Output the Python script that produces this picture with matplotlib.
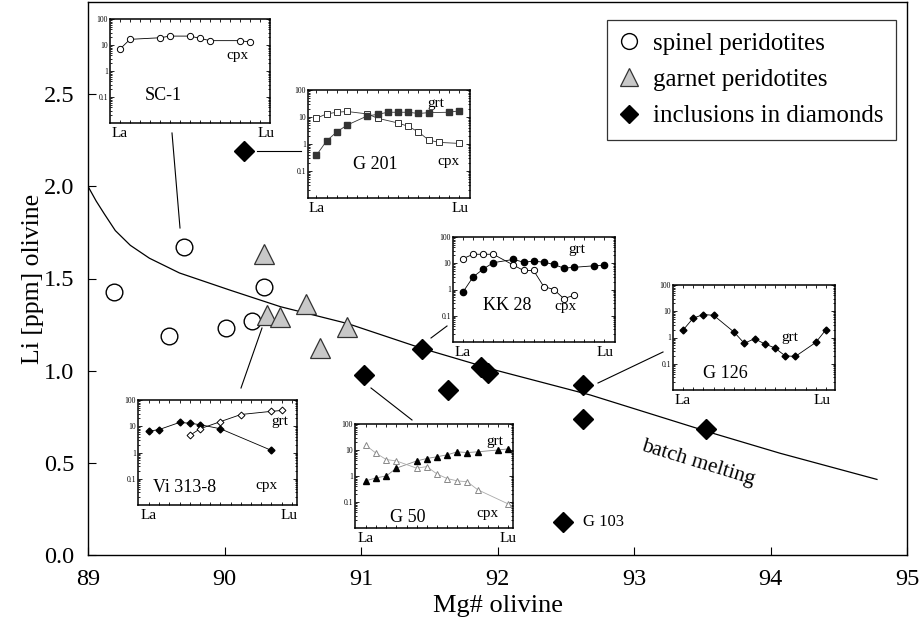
import matplotlib
matplotlib.use('Agg')
import matplotlib.pyplot as plt
from matplotlib.lines import Line2D
from matplotlib.ticker import LogLocator, NullFormatter

plt.rcParams['font.family'] = ['Liberation Serif', 'DejaVu Serif']

# main diagram: Li in olivine vs Mg#
spinel_mg = [89.19, 89.70, 89.59, 90.01, 90.20, 90.29]
spinel_li = [1.425, 1.672, 1.19, 1.231, 1.271, 1.452]
garnet_mg = [90.29, 90.31, 90.41, 90.60, 90.90, 90.70]
garnet_li = [1.634, 1.30, 1.289, 1.361, 1.238, 1.121]
diam_mg = [90.14, 91.45, 91.02, 91.64, 91.88, 91.93, 92.63, 92.63, 93.53, 92.48]
diam_li = [2.19, 1.117, 0.976, 0.895, 1.02, 0.99, 0.922, 0.738, 0.683, 0.179]

melt_mg = [89.0, 89.06, 89.12, 89.2, 89.31, 89.45, 89.67, 90.04, 90.41, 90.9, 91.45,
           92.0, 92.68, 93.58, 94.07, 94.78]
melt_li = [2.0, 1.92, 1.85, 1.76, 1.68, 1.61, 1.53, 1.437, 1.347, 1.256, 1.12,
           1.0, 0.868, 0.66, 0.552, 0.41]

# REE patterns (chondrite normalised), x = position La..Lu (0..14)
sc1_ree = [0, 1, 4, 5, 7, 8, 9, 12, 13]
sc1_cpx = [7, 16.5, 19, 22, 22, 18, 14.7, 14.7, 13]

g201_grt_ree = [0, 1, 2, 3, 5, 6, 7, 8, 9, 10, 11, 13, 14]
g201_grt = [0.38, 1.3, 2.8, 5, 11, 12.5, 15, 15, 15, 13.5, 14.5, 15, 17]
g201_cpx_ree = [0, 1, 2, 3, 5, 6, 8, 9, 10, 11, 12, 14]
g201_cpx = [9, 13, 15, 16, 13, 9, 6, 4.5, 2.8, 1.4, 1.15, 1.05]

kk28_grt_ree = [0, 1, 2, 3, 5, 6, 7, 8, 9, 10, 11, 13, 14]
kk28_grt = [0.8, 3, 6, 10.5, 14, 11, 12, 11, 9, 6.5, 7, 8, 8.5]
kk28_cpx_ree = [0, 1, 2, 3, 5, 6, 7, 8, 9, 10, 11]
kk28_cpx = [15, 22, 22, 22, 8.5, 5.3, 5.3, 1.3, 1.0, 0.45, 0.6]

g126_grt_ree = [0, 1, 2, 3, 5, 6, 7, 8, 9, 10, 11, 13, 14]
g126_grt = [1.9, 5.5, 7.5, 7, 1.6, 0.6, 0.9, 0.57, 0.4, 0.2, 0.19, 0.65, 2]

vi_cpx_ree = [0, 1, 3, 4, 5, 7, 12]
vi_cpx = [6.5, 7.5, 14, 13, 11.5, 8, 1.2]
vi_grt_ree = [4, 5, 7, 9, 12, 13]
vi_grt = [4.5, 8, 15, 28, 37, 40]

g50_grt_ree = [0, 1, 2, 3, 5, 6, 7, 8, 9, 10, 11, 13, 14]
g50_grt = [0.65, 0.85, 1.0, 2, 3.8, 4.7, 5.5, 6.5, 8.5, 8, 8.5, 10, 11]
g50_cpx_ree = [0, 1, 2, 3, 5, 6, 7, 8, 9, 10, 11, 14]
g50_cpx = [15, 7.5, 4.3, 3.8, 2.0, 2.3, 1.2, 0.8, 0.65, 0.6, 0.3, 0.085]

W, H = 922, 627
fig = plt.figure(figsize=(W / 100, H / 100), dpi=100)
ax = fig.add_axes([88 / W, 1 - 555 / H, 819 / W, 553 / H])

ax.plot(melt_mg, melt_li, color='black', lw=0.9, zorder=1)
ax.plot(spinel_mg, spinel_li, 'o', ms=12, mfc='white', mec='black', mew=1.0,
        label='spinel peridotites', zorder=3)
ax.plot(garnet_mg, garnet_li, '^', ms=14, mfc='#c8c8c8', mec='#333333', mew=0.9,
        label='garnet peridotites', zorder=3)
ax.plot(diam_mg, diam_li, 'D', ms=10, mfc='black', mec='black',
        label='inclusions in diamonds', zorder=3)

ax.set_xlim(89, 95)
ax.set_ylim(0, 3)
ax.set_xticks([89, 90, 91, 92, 93, 94, 95])
ax.set_yticks([0.0, 0.5, 1.0, 1.5, 2.0, 2.5])
ax.set_yticklabels(['0.0', '0.5', '1.0', '1.5', '2.0', '2.5'])
ax.tick_params(direction='in', length=6, width=0.8, labelsize=17.5, pad=10)
for s in ax.spines.values():
    s.set_linewidth(1.0)
ax.set_xlabel('Mg# olivine', fontsize=19)
ax.set_ylabel('Li [ppm] olivine', fontsize=18.5)
ax.xaxis.set_label_coords(0.5, -0.072)
ax.yaxis.set_label_coords(-0.054, 0.5)

leg = ax.legend(loc='upper right', bbox_to_anchor=(0.9866, 0.9675), borderaxespad=0,
                fontsize=18, frameon=True, fancybox=False, edgecolor='black',
                handlelength=0.8, handletextpad=0.55, labelspacing=0.55,
                borderpad=0.5, markerscale=0.95)
leg.get_frame().set_linewidth(0.9)

ax.text((698 - 88) / 819, (555 - 463) / 553, 'batch melting', transform=ax.transAxes,
        fontsize=15.5, rotation=-17, ha='center', va='center', rotation_mode='anchor')
fig.text(583 / W, 1 - 522 / H, 'G 103', fontsize=12, ha='left', va='center')


def leader(p0, p1):
    fig.add_artist(Line2D([p0[0] / W, p1[0] / W], [1 - p0[1] / H, 1 - p1[1] / H],
                          transform=fig.transFigure, color='black', lw=0.8))


leader((172, 133), (180, 228))
leader((257, 151), (301, 151))
leader((262, 328), (241, 388))
leader((371, 388), (412, 420))
leader((431, 338), (447, 326))
leader((598, 383), (663, 352))


def ree_box(box, xlim, la_pos, lu_pos):
    x0, y0, x1, y1 = box
    a = fig.add_axes([x0 / W, 1 - y1 / H, (x1 - x0) / W, (y1 - y0) / H])
    a.set_facecolor('white')
    a.set_yscale('log')
    a.set_ylim(0.01, 100)
    a.set_xlim(*xlim)
    a.set_yticks([0.1, 1, 10, 100])
    a.set_yticklabels(['0.1', '1', '10', '100'])
    a.yaxis.set_minor_locator(LogLocator(base=10, subs=range(2, 10), numticks=20))
    a.yaxis.set_minor_formatter(NullFormatter())
    a.set_xticks(range(15))
    a.set_xticklabels([])
    a.tick_params(which='both', direction='in', top=True, right=True, labelsize=5.5,
                  pad=1.5, width=0.6)
    a.tick_params(which='major', length=3)
    a.tick_params(which='minor', length=1.5)
    a.tick_params(axis='x', length=2.5)
    for s in a.spines.values():
        s.set_linewidth(1.1)
    a.text(la_pos, -0.04, 'La', transform=a.transAxes, ha='center', va='top', fontsize=11)
    a.text(lu_pos, -0.04, 'Lu', transform=a.transAxes, ha='center', va='top', fontsize=11)
    return a


def label(px, py, s, size=11):
    fig.text(px / W, 1 - py / H, s, fontsize=size, ha='center', va='center', zorder=10)


# SC-1
a = ree_box((110, 19, 270, 123), (-1.0, 15.0), 0.0625, 0.973)
a.plot(sc1_ree, sc1_cpx, '-o', color='black', lw=0.6, ms=4.5, mfc='white', mec='black', mew=0.7)
label(163, 95, 'SC-1', 13)
label(237, 55, 'cpx')

# G 201
a = ree_box((308, 90, 470, 198), (-0.82, 15.05), 0.052, 0.938)
a.plot(g201_cpx_ree, g201_cpx, '-s', color='#333333', lw=0.6, ms=4, mfc='white', mec='#333333', mew=0.7)
a.plot(g201_grt_ree, g201_grt, '-s', color='#333333', lw=0.6, ms=4, mfc='#333333', mec='#333333')
label(375, 165, 'G 201', 13)
label(436, 103, 'grt')
label(448, 161, 'cpx')

# KK 28
a = ree_box((453, 237, 615, 342), (-0.99, 15.07), 0.062, 0.938)
a.plot(kk28_grt_ree, kk28_grt, '-o', color='black', lw=0.6, ms=4.5, mfc='black', mec='black')
a.plot(kk28_cpx_ree, kk28_cpx, '-o', color='black', lw=0.6, ms=4.5, mfc='white', mec='black', mew=0.7)
label(507, 305, 'KK 28', 13)
label(577, 250, 'grt')
label(565, 307, 'cpx')

# G 126
a = ree_box((673, 285, 835, 390), (-0.98, 14.88), 0.062, 0.92)
a.plot(g126_grt_ree, g126_grt, '-D', color='black', lw=0.6, ms=3.5, mfc='black', mec='black')
label(725, 374, 'G 126', 13)
label(790, 337, 'grt')

# Vi 313-8
a = ree_box((138, 400, 297, 505), (-1.08, 14.5), 0.069, 0.947)
a.plot(vi_cpx_ree, vi_cpx, '-D', color='black', lw=0.6, ms=3.5, mfc='black', mec='black')
a.plot(vi_grt_ree, vi_grt, '-D', color='black', lw=0.6, ms=3.5, mfc='white', mec='black', mew=0.7)
label(185, 488, 'Vi 313-8', 13)
label(280, 422, 'grt')
label(266, 486, 'cpx')

# G 50
a = ree_box((355, 424, 513, 528), (-1.08, 14.5), 0.069, 0.968)
a.plot(g50_grt_ree, g50_grt, '-^', color='#888888', lw=0.6, ms=5, mfc='black', mec='black')
a.plot(g50_cpx_ree, g50_cpx, '-^', color='#aaaaaa', lw=0.6, ms=5, mfc='white', mec='#888888', mew=0.7)
label(408, 517, 'G 50', 13)
label(495, 441, 'grt')
label(487, 514, 'cpx')

fig.savefig('out.png', dpi=100)
